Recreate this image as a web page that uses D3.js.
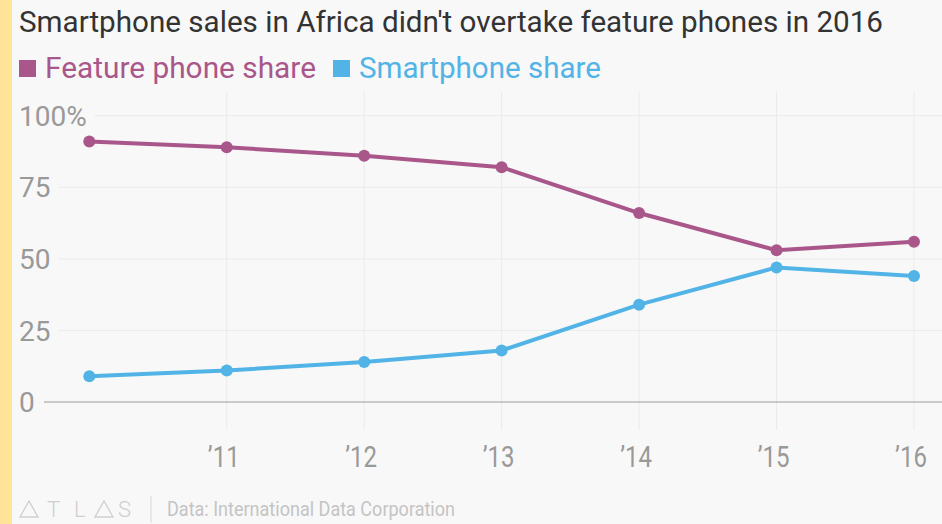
<!DOCTYPE html>
<html>
<head>
<meta charset="utf-8">
<script src="https://cdn.jsdelivr.net/npm/d3@7"></script>
<style>
  body { margin: 0; background: #f8f8f8; }
  svg { display: block; font-family: Roboto, "Noto Sans", sans-serif; }
</style>
</head>
<body>
<script>
// Data
const years = [2010, 2011, 2012, 2013, 2014, 2015, 2016];
const featureShare = [91, 89, 86, 82, 66, 53, 56];
const smartShare = [9, 11, 14, 18, 34, 47, 44];
const yTicks = [0, 25, 50, 75, 100];
const xTicks = [2011, 2012, 2013, 2014, 2015, 2016];

const W = 942, H = 524;
const purple = "#a9578a", blue = "#52b4e6";

const svg = d3.select("body").append("svg")
    .attr("width", W)
    .attr("height", H);

svg.append("rect").attr("width", W).attr("height", H).attr("fill", "#f8f8f8");
// yellow strip on the left
svg.append("rect").attr("width", 12).attr("height", H).attr("fill", "#ffe497");

const x = d3.scaleLinear().domain([2010, 2016]).range([89.3, 914]);
const y = d3.scaleLinear().domain([0, 100]).range([402, 115.7]);

// Title
svg.append("text")
    .attr("x", 19).attr("y", 32)
    .attr("fill", "#333")
    .attr("textLength", 864)
    .attr("lengthAdjust", "spacingAndGlyphs")
    .style("font-size", "29px")
    .text("Smartphone sales in Africa didn't overtake feature phones in 2016");

// Legend
const legend = [{name: "Feature phone share", color: purple, x: 19, w: 271},
                {name: "Smartphone share", color: blue, x: 333, w: 242}];
legend.forEach(function (l) {
    svg.append("rect").attr("x", l.x).attr("y", 60).attr("width", 17).attr("height", 17).attr("fill", l.color);
    svg.append("text").attr("x", l.x + 26).attr("y", 78)
        .attr("fill", l.color)
        .attr("textLength", l.w)
        .attr("lengthAdjust", "spacingAndGlyphs")
        .style("font-size", "29.5px")
        .text(l.name);
});

// Vertical grid lines
svg.append("g").selectAll("line")
    .data(xTicks)
    .join("line")
    .attr("x1", d => x(d)).attr("x2", d => x(d))
    .attr("y1", 92).attr("y2", 430)
    .attr("stroke", "#ebebeb").attr("stroke-width", 1);

// Y axis labels and horizontal grid lines
const yAxis = svg.append("g");
yTicks.forEach(function (t) {
    const label = yAxis.append("text")
        .attr("x", 19).attr("y", y(t))
        .attr("dy", "0.36em")
        .attr("fill", "#999")
        .style("font-size", "28px")
        .text(t === 100 ? "100%" : t);
    const end = 19 + label.node().getComputedTextLength();
    yAxis.append("line")
        .attr("x1", t === 0 ? 44 : end + 8).attr("x2", W)
        .attr("y1", y(t)).attr("y2", y(t))
        .attr("stroke", t === 0 ? "#9a9a9a" : "#ebebeb")
        .attr("stroke-width", t === 0 ? 1.2 : 1);
});

// X axis labels (condensed look)
svg.append("g").selectAll("text")
    .data(xTicks)
    .join("text")
    .attr("transform", d => "translate(" + (x(d) - 3) + ",467) scale(0.8,1)")
    .attr("text-anchor", "middle")
    .attr("fill", "#999")
    .style("font-size", "30px")
    .text(d => "\u2019" + String(d).slice(2));

// Lines and points
const line = d3.line()
    .x((d, i) => x(years[i]))
    .y(d => y(d));

[[featureShare, purple], [smartShare, blue]].forEach(function (s) {
    svg.append("path")
        .datum(s[0])
        .attr("fill", "none")
        .attr("stroke", s[1])
        .attr("stroke-width", 4)
        .attr("d", line);
    svg.append("g").selectAll("circle")
        .data(s[0])
        .join("circle")
        .attr("cx", (d, i) => x(years[i]))
        .attr("cy", d => y(d))
        .attr("r", 6)
        .attr("fill", s[1]);
});

// Footer: ATLAS logo + source
const logo = svg.append("g").attr("fill", "none").attr("stroke", "#cfcfcf").attr("stroke-width", 1.3);
[20, 95].forEach(function (ax) {
    logo.append("path").attr("d", "M" + ax + ",517 L" + (ax + 9) + ",501 L" + (ax + 18) + ",517 Z");
});
[["T", 47], ["L", 74], ["S", 118]].forEach(function (c) {
    svg.append("text").attr("x", c[1]).attr("y", 517).attr("fill", "#cfcfcf")
        .style("font-size", "22px").style("font-weight", "300").text(c[0]);
});
svg.append("line").attr("x1", 151).attr("x2", 151).attr("y1", 496).attr("y2", 523)
    .attr("stroke", "#d8d8d8").attr("stroke-width", 1);
svg.append("text")
    .attr("x", 167).attr("y", 516)
    .attr("fill", "#c4c4c4")
    .attr("textLength", 288)
    .attr("lengthAdjust", "spacingAndGlyphs")
    .style("font-size", "20px")
    .text("Data: International Data Corporation");
</script>
</body>
</html>
